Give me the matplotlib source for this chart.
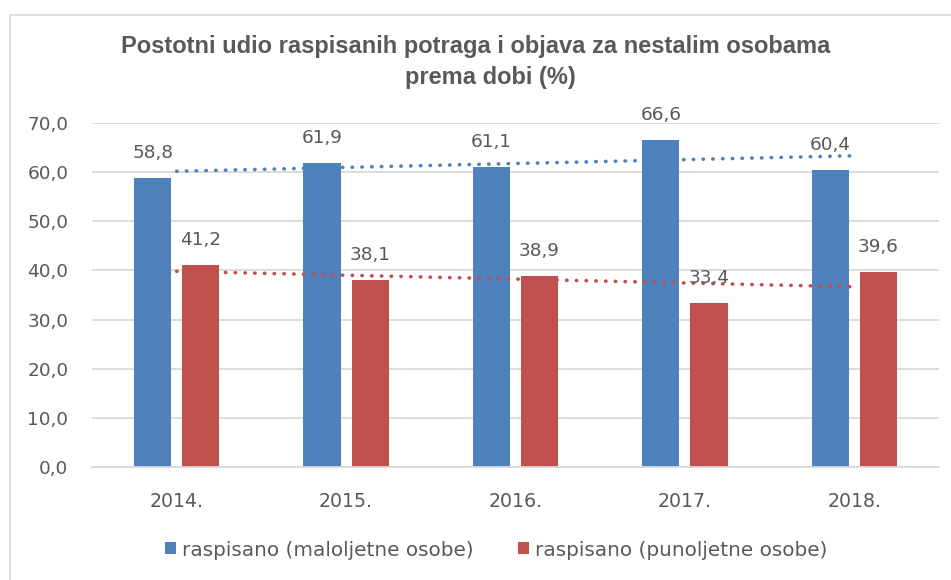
import numpy as np
import matplotlib.pyplot as plt
from matplotlib.patches import Rectangle

# podaci
years = ['2014.', '2015.', '2016.', '2017.', '2018.']
maloljetne = [58.8, 61.9, 61.1, 66.6, 60.4]
punoljetne = [41.2, 38.1, 38.9, 33.4, 39.6]
y_ticks = [0, 10, 20, 30, 40, 50, 60, 70]

BLUE = '#4F81BD'
RED = '#C0504D'
TXT = '#595959'
GRID = '#D9D9D9'

plt.rcParams['font.family'] = ['DejaVu Sans']

W, H = 951, 580
fig = plt.figure(figsize=(W / 100, H / 100), dpi=100)
ax = fig.add_axes([92 / W, 1 - 467 / H, (939 - 92) / W, (467 - 123) / H])

# okvir grafikona
fig.patches.append(Rectangle((10 / W, -0.1), 1.1, 1 - 15 / H + 0.1, transform=fig.transFigure,
                             fill=False, edgecolor=GRID, linewidth=1.2))

x = np.arange(len(years))
bw = 0.22
off = 0.142
b1 = ax.bar(x - off, maloljetne, bw, color=BLUE, label='raspisano (maloljetne osobe)', zorder=2)
b2 = ax.bar(x + off, punoljetne, bw, color=RED, label='raspisano (punoljetne osobe)', zorder=2)

# linearni trend
for vals, c in [(maloljetne, BLUE), (punoljetne, RED)]:
    k, n = np.polyfit(x, vals, 1)
    ax.plot(x, k * x + n, linestyle=(0, (0.1, 2.6)), dash_capstyle='round', color=c,
            linewidth=2.6, zorder=3)

for bars, vals in [(b1, maloljetne), (b2, punoljetne)]:
    for b, v in zip(bars, vals):
        ax.annotate(f'{v:.1f}'.replace('.', ','), (b.get_x() + b.get_width() / 2, v),
                    xytext=(0, 18), textcoords='offset points', ha='center', va='center',
                    fontsize=13.3, color=TXT)

ax.set_xlim(-0.5, len(years) - 0.5)
ax.set_ylim(0, 70)
ax.set_yticks(y_ticks)
ax.set_yticklabels([f'{t:.1f}'.replace('.', ',') for t in y_ticks])
ax.set_xticks(x)
ax.set_xticklabels(years)
ax.tick_params(axis='both', length=0, labelcolor=TXT)
ax.tick_params(axis='x', pad=18, labelsize=13.6)
ax.tick_params(axis='y', pad=17, labelsize=13.3)
ax.yaxis.grid(True, color=GRID, linewidth=1.3, zorder=0)
ax.set_axisbelow(True)
for s in ['top', 'right', 'left']:
    ax.spines[s].set_visible(False)
ax.spines['bottom'].set_color(GRID)
ax.spines['bottom'].set_linewidth(1.3)

title_font = ['Liberation Sans', 'DejaVu Sans']
fig.text(0.5, 1 - 47 / H, 'Postotni udio raspisanih potraga i objava za nestalim osobama',
         ha='center', va='center', fontsize=17, fontweight='bold', color=TXT, family=title_font)
fig.text(490 / W, 1 - 78 / H, 'prema dobi (%)',
         ha='center', va='center', fontsize=17, fontweight='bold', color=TXT, family=title_font)

fig.legend(handles=[b1, b2], loc='center', bbox_to_anchor=(496 / W, 1 - 550 / H), ncol=2,
           frameon=False, fontsize=14.4, labelcolor=TXT, handlelength=0.55, handleheight=0.55,
           handletextpad=0.3, columnspacing=2.2)

fig.savefig('out.png', dpi=100)
